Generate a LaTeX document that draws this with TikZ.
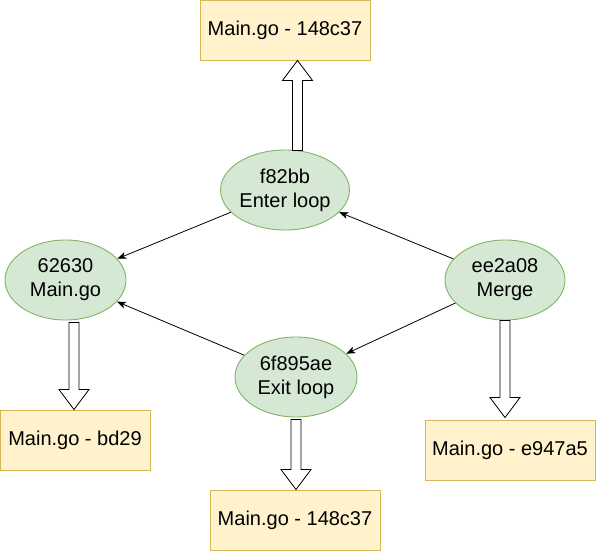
\documentclass[tikz,border=0pt]{standalone}
\usepackage{fontspec}
\setmainfont{Liberation Sans}
\usetikzlibrary{shapes.geometric,arrows.meta,calc}
\definecolor{boxfill}{HTML}{FFF2CC}
\definecolor{boxline}{HTML}{D6B656}
\definecolor{ellfill}{HTML}{D5E8D4}
\definecolor{ellline}{HTML}{82B366}
\newcommand{\fatarrow}[3]{\draw[blockarrow] let \p1=(#1), \p2=(#2) in
  ({\x1-5pt},{\y1}) -- ({\x1-5pt},{\y2+#3}) -- ({\x1-15pt},{\y2+#3}) -- ({\x1},{\y2})
  -- ({\x1+15pt},{\y2+#3}) -- ({\x1+5pt},{\y2+#3}) -- ({\x1+5pt},{\y1}) -- cycle;}
\begin{document}
\begin{tikzpicture}[x=1pt,y=-1pt,
  font=\fontsize{20}{24}\selectfont,
  filebox/.style={draw=boxline, fill=boxfill, line width=0.9pt, minimum width=170pt, minimum height=60pt, inner sep=0pt},
  commit/.style={ellipse, draw=ellline, fill=ellfill, line width=0.9pt, align=center, inner sep=0pt, minimum width=120pt, minimum height=80pt},
  link/.style={-{Stealth[length=9pt,width=7pt,inset=2.5pt]}, line width=0.8pt},
  blockarrow/.style={draw=black, fill=white, line width=0.8pt}]
\useasboundingbox (0,0) rectangle (596,551);

\node[filebox] (t1) at (285,30) {Main.go - 148c37};
\node[commit] (f) at (285,190) {f82bb\\Enter loop};
\node[commit, minimum width=121pt] (m) at (65.5,280) {62630\\Main.go};
\node[commit] (e) at (505,280) {ee2a08\\Merge};
\node[commit, minimum width=122pt] (x) at (296,377) {6f895ae\\Exit loop};
\node[filebox, minimum width=150pt] (b1) at (75,440) {Main.go - bd29};
\node[filebox] (b2) at (510,450) {Main.go - e947a5};
\node[filebox] (b3) at (295,520) {Main.go - 148c37};

\coordinate (a1s) at ($(f.north)+(12.5,1)$);
\coordinate (a1e) at (t1.south -| a1s);
\fatarrow{a1s}{a1e}{-20pt}

\coordinate (a2s) at ($(m.south)+(8.5,2)$);
\coordinate (a2e) at (b1.north -| a2s);
\fatarrow{a2s}{a2e}{20pt}

\coordinate (a3s) at ($(e.south)+(0,0)$);
\coordinate (a3e) at ($(b2.north -| a3s)+(0,-2)$);
\fatarrow{a3s}{a3e}{20pt}

\coordinate (a4s) at ($(x.south)+(0,2)$);
\coordinate (a4e) at (b3.north -| a4s);
\fatarrow{a4s}{a4e}{20pt}

\draw[link] (f) -- (m);
\draw[link] (e) -- (f);
\draw[link] (e) -- (x);
\draw[link] (x) -- (m);
\end{tikzpicture}
\end{document}
